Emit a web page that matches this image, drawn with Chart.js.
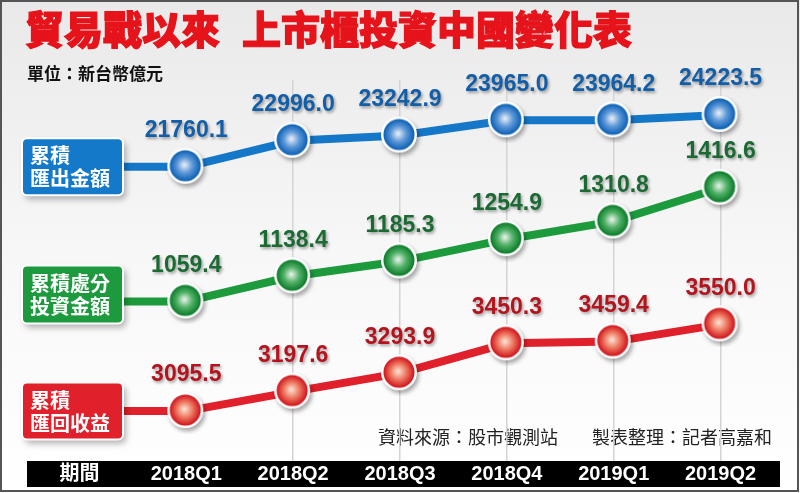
<!DOCTYPE html>
<html>
<head>
<meta charset="utf-8">
<script src="https://cdn.jsdelivr.net/npm/chart.js@4.4.1/dist/chart.umd.min.js"></script>
<style>
  html, body { margin: 0; padding: 0; background: #fff; }
  #wrap { width: 800px; height: 493px; position: relative; }
</style>
</head>
<body>
<div id="wrap"><canvas id="myChart"></canvas></div>
<script>
// data (億元)
var quarters = ['2018Q1', '2018Q2', '2018Q3', '2018Q4', '2019Q1', '2019Q2'];
var exportTotal = [21760.1, 22996.0, 23242.9, 23965.0, 23964.2, 24223.5];
var disposalTotal = [1059.4, 1138.4, 1185.3, 1254.9, 1310.8, 1416.6];
var returnTotal = [3095.5, 3197.6, 3293.9, 3450.3, 3459.4, 3550.0];

var periodLabel = '期間';
var seriesNames = [['累積', '匯出金額'], ['累積處分', '投資金額'], ['累積', '匯回收益']];

var FONT_CJK = '"Noto Sans CJK TC", "Noto Sans CJK SC", sans-serif';
var FONT_NUM = '"Liberation Sans", Arial, ' + FONT_CJK;

var blue = { line: '#1477c8', box: '#1479c9', text: '#135ea8', edge: '#0a5fb4', mid: '#5d98d8', core: '#eef1f8' };
var green = { line: '#1c9a3c', box: '#1d9a3e', text: '#1b6a33', edge: '#097a28', mid: '#52b168', core: '#eef5ef' };
var red = { line: '#e0202a', box: '#e0212b', text: '#b3141d', edge: '#cf111b', mid: '#ee7a62', core: '#fde6d8' };

function sphere(c) {
    var cv = document.createElement('canvas');
    cv.width = 46; cv.height = 46;
    var g = cv.getContext('2d');
    g.save();
    g.shadowColor = 'rgba(0,0,0,0.35)';
    g.shadowBlur = 4;
    g.shadowOffsetX = 2;
    g.shadowOffsetY = 3;
    g.beginPath();
    g.arc(22, 22, 18, 0, Math.PI * 2);
    g.fillStyle = '#ffffff';
    g.fill();
    g.restore();
    var grad = g.createRadialGradient(21, 21, 0, 22, 22, 15.5);
    grad.addColorStop(0, c.core);
    grad.addColorStop(0.5, c.mid);
    grad.addColorStop(1, c.edge);
    g.beginPath();
    g.arc(22, 22, 15.5, 0, Math.PI * 2);
    g.fillStyle = grad;
    g.fill();
    return cv;
}

var colors = [blue, green, red];

var decorPlugin = {
    id: 'decor',
    beforeDraw: function(chart) {
        var ctx = chart.ctx;
        ctx.save();
        var bg = ctx.createLinearGradient(0, 0, 0, 493);
        bg.addColorStop(0, '#e9e9e9');
        bg.addColorStop(0.55, '#f8f8f8');
        bg.addColorStop(1, '#ffffff');
        ctx.fillStyle = bg;
        ctx.fillRect(0, 0, 800, 493);

        // title
        ctx.fillStyle = '#e6131b';
        ctx.strokeStyle = '#e6131b';
        ctx.lineWidth = 1.2;
        ctx.textBaseline = 'middle';
        ctx.font = '900 39px ' + FONT_CJK;
        ctx.fillText('貿易戰以來', 25, 29);
        ctx.strokeText('貿易戰以來', 25, 29);
        ctx.fillText('上市櫃投資中國變化表', 242, 29);
        ctx.strokeText('上市櫃投資中國變化表', 242, 29);

        ctx.fillStyle = '#111';
        ctx.font = 'bold 17px ' + FONT_CJK;
        ctx.fillText('單位：新台幣億元', 27, 74);

        ctx.fillStyle = '#222';
        ctx.font = '18px ' + FONT_CJK;
        ctx.fillText('資料來源：股市觀測站', 378, 437);
        ctx.textAlign = 'right';
        ctx.fillText('製表整理：記者高嘉和', 772, 437);

        // black period bar behind the x axis
        var xs = chart.scales.x;
        ctx.fillStyle = '#000';
        ctx.fillRect(27, xs.top, 753, xs.bottom - xs.top);

        // frame
        ctx.strokeStyle = '#555';
        ctx.lineWidth = 2;
        ctx.strokeRect(1, 1, 797, 490);
        ctx.restore();
    },
    beforeDatasetsDraw: function(chart) {
        var ctx = chart.ctx;
        ctx.save();
        chart.data.datasets.forEach(function(ds, i) {
            var first = chart.getDatasetMeta(i).data[1];
            var c = colors[i];
            ctx.strokeStyle = c.line;
            ctx.lineWidth = 8;
            ctx.beginPath();
            ctx.moveTo(120, first.y);
            ctx.lineTo(first.x, first.y);
            ctx.stroke();

            var h = i === 1 ? 58 : 57;
            var top = first.y - h / 2 + (i === 1 ? -7 : 0);
            ctx.save();
            ctx.shadowColor = 'rgba(0,0,0,0.3)';
            ctx.shadowBlur = 6;
            ctx.shadowOffsetX = 3;
            ctx.shadowOffsetY = 4;
            ctx.beginPath();
            ctx.roundRect(22, top, 101, h, 5);
            ctx.fillStyle = c.box;
            ctx.fill();
            ctx.restore();
            ctx.lineWidth = 2;
            ctx.strokeStyle = '#ffffff';
            ctx.beginPath();
            ctx.roundRect(22, top, 101, h, 5);
            ctx.stroke();

            ctx.fillStyle = '#ffffff';
            ctx.font = 'bold 20px ' + FONT_CJK;
            ctx.textBaseline = 'middle';
            ctx.textAlign = 'left';
            ctx.fillText(seriesNames[i][0], 30, top + h / 2 - 11);
            ctx.fillText(seriesNames[i][1], 30, top + h / 2 + 12);
        });
        ctx.restore();
    },
    afterDatasetsDraw: function(chart) {
        var ctx = chart.ctx;
        ctx.save();
        ctx.font = 'bold 23px ' + FONT_NUM;
        ctx.textAlign = 'center';
        ctx.textBaseline = 'middle';
        chart.data.datasets.forEach(function(ds, i) {
            var meta = chart.getDatasetMeta(i);
            meta.data.forEach(function(pt, j) {
                var v = ds.data[j];
                if (v === null) return;
                ctx.save();
                ctx.shadowColor = 'rgba(0,0,0,0.35)';
                ctx.shadowBlur = 3;
                ctx.shadowOffsetX = 1.5;
                ctx.shadowOffsetY = 2;
                ctx.fillStyle = colors[i].text;
                ctx.fillText(v.toFixed(1), pt.x, pt.y - 36);
                ctx.restore();
            });
        });
        ctx.restore();
    }
};

function lineSet(data, axis, c) {
    return {
        data: [null].concat(data),
        yAxisID: axis,
        borderColor: c.line,
        borderWidth: 8,
        pointStyle: sphere(c),
        pointRadius: 18,
        tension: 0
    };
}

var ctx = document.getElementById('myChart').getContext('2d');
var myChart = new Chart(ctx, {
    type: 'line',
    data: {
        labels: [periodLabel].concat(quarters),
        datasets: [
            lineSet(exportTotal, 'yExport', blue),
            lineSet(disposalTotal, 'yDisposal', green),
            lineSet(returnTotal, 'yReturn', red)
        ]
    },
    options: {
        responsive: true,
        maintainAspectRatio: false,
        animation: false,
        events: [],
        layout: { padding: { top: 80, bottom: 6, left: 18, right: 24 } },
        plugins: { legend: { display: false }, tooltip: { enabled: false } },
        scales: {
            x: {
                offset: true,
                border: { display: false },
                grid: {
                    drawTicks: false,
                    lineWidth: 1.5,
                    color: function(c) { return c.index >= 2 && c.index <= 6 ? '#d4d4d4' : 'rgba(0,0,0,0)'; }
                },
                ticks: {
                    color: '#ffffff',
                    padding: 2,
                    font: { family: FONT_NUM, size: 20, weight: 'bold', lineHeight: 1.1 }
                }
            },
            yExport: { display: false, min: 7790, max: 25880 },
            yDisposal: { display: false, min: 558, max: 1755 },
            yReturn: { display: false, min: 2834, max: 4830 }
        }
    },
    plugins: [decorPlugin]
});
</script>
</body>
</html>
